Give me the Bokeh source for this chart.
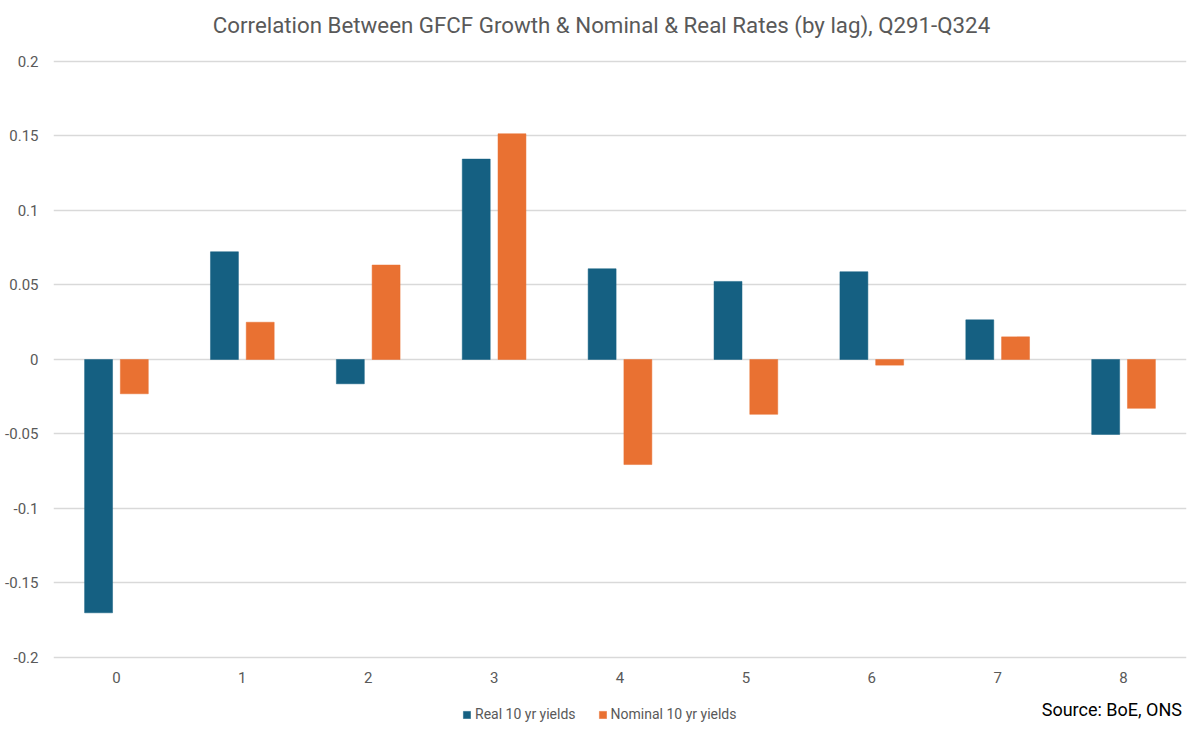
from bokeh.plotting import figure
from bokeh.models import (ColumnDataSource, Range1d, FixedTicker, CustomJSTickFormatter,
                          Label, Legend, LegendItem)
from bokeh.transform import dodge
from bokeh.embed import file_html
from bokeh.resources import INLINE

# ---- data ----
lags = [0, 1, 2, 3, 4, 5, 6, 7, 8]
real_10yr = [-0.170, 0.0723, -0.0163, 0.1345, 0.0609, 0.0524, 0.0589, 0.0266, -0.0503]
nominal_10yr = [-0.023, 0.0250, 0.0634, 0.1515, -0.0705, -0.0368, -0.0038, 0.0152, -0.0328]
y_ticks = [-0.2, -0.15, -0.1, -0.05, 0, 0.05, 0.1, 0.15, 0.2]
title_text = "Correlation Between GFCF Growth & Nominal & Real Rates (by lag), Q291-Q324"
source_text = "Source: BoE, ONS"
series_names = ["Real 10 yr yields", "Nominal 10 yr yields"]

BLUE = "#156082"
ORANGE = "#E97132"
GREY = "#595959"
FONT = "Roboto"

src = ColumnDataSource(dict(x=lags, real=real_10yr, nominal=nominal_10yr))

# frame spans the full height so that title, legend and source are drawn inside it
p = figure(width=1204, height=733, output_backend="svg", toolbar_location=None,
           x_range=Range1d(-0.5, 8.5), y_range=Range1d(-0.25101, 0.24094),
           min_border_left=53, min_border_right=18, min_border_top=0, min_border_bottom=0)
p.outline_line_color = None
p.background_fill_color = "white"
p.border_fill_color = "white"

r1 = p.vbar(x=dodge("x", -0.142, range=p.x_range), top="real", bottom=0, width=0.222,
            source=src, fill_color=BLUE, line_color=BLUE, line_width=0.5)
r2 = p.vbar(x=dodge("x", 0.142, range=p.x_range), top="nominal", bottom=0, width=0.222,
            source=src, fill_color=ORANGE, line_color=ORANGE, line_width=0.5)

# grid
p.xgrid.grid_line_color = None
p.ygrid.grid_line_color = "#d9d9d9"
p.ygrid.grid_line_width = 1.3
p.ygrid.ticker = FixedTicker(ticks=y_ticks)

# axes
p.yaxis.ticker = FixedTicker(ticks=y_ticks)
p.yaxis.formatter = CustomJSTickFormatter(code="return parseFloat(tick.toFixed(4)).toString();")
p.xaxis.ticker = FixedTicker(ticks=lags)
p.xaxis.fixed_location = y_ticks[0]
for ax in (p.xaxis, p.yaxis):
    ax.axis_line_color = None
    ax.major_tick_line_color = None
    ax.minor_tick_line_color = None
    ax.major_tick_out = 0
    ax.major_tick_in = 0
    ax.minor_tick_out = 0
    ax.minor_tick_in = 0
    ax.axis_label_standoff = 0
    ax.major_label_text_font = FONT
    ax.major_label_text_font_size = "15px"
    ax.major_label_text_color = GREY
p.yaxis.major_label_standoff = 15
p.xaxis.major_label_standoff = 15

# title
p.add_layout(Label(x=3.853, y=0.2246, text=title_text, text_font=FONT, text_font_size="22.3px",
                   text_color=GREY, text_align="center", text_baseline="middle"))
# source
p.add_layout(Label(x=8.464, y=-0.2349, text=source_text, text_font=FONT, text_font_size="18px",
                   text_color="black", text_align="right", text_baseline="middle"))

legend = Legend(items=[LegendItem(label=series_names[0], renderers=[r1]),
                       LegendItem(label=series_names[1], renderers=[r2])],
                orientation="horizontal", location=(409, 11),
                glyph_width=9, glyph_height=9, label_height=14, label_standoff=4,
                spacing=22, padding=2, margin=0, border_line_color=None,
                background_fill_alpha=0,
                label_text_font=FONT, label_text_font_size="14px", label_text_color=GREY)
p.add_layout(legend, "center")

open("out.html", "w").write(file_html(p, INLINE))
